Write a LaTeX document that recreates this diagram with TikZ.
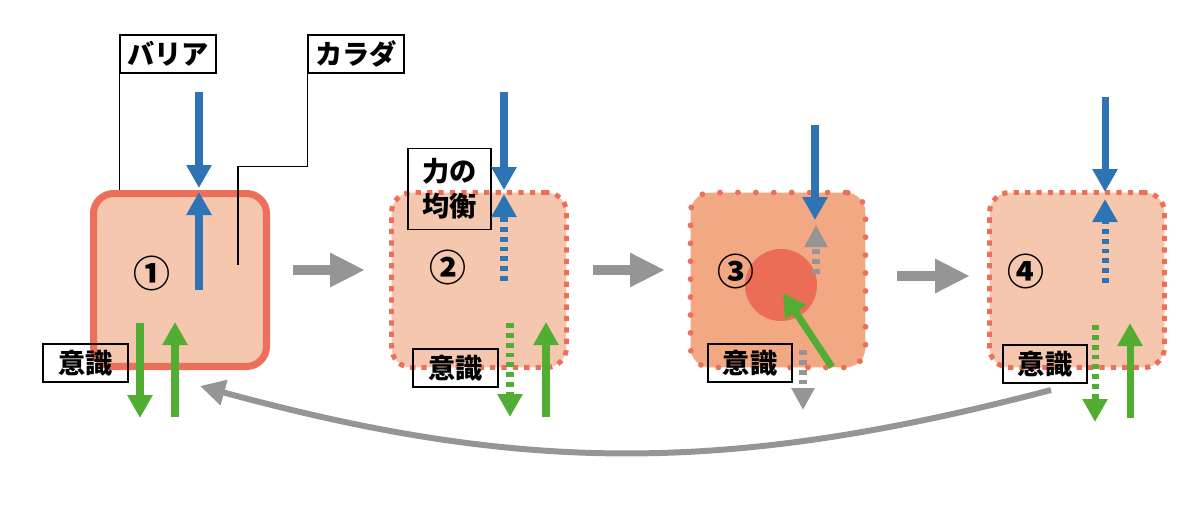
\documentclass[tikz,border=0pt]{standalone}
\usepackage{fontspec}
\newfontfamily\jp{Noto Sans CJK JP}
\usetikzlibrary{arrows.meta}
\definecolor{cellred}{HTML}{EC6F5A}
\definecolor{cellfill}{HTML}{F5C7AF}
\definecolor{deepfill}{HTML}{F2A983}
\definecolor{corered}{HTML}{EB6D55}
\definecolor{forceblue}{HTML}{2E74B5}
\definecolor{mindgreen}{HTML}{52AE32}
\definecolor{stepgray}{HTML}{959595}

\begin{document}
\begin{tikzpicture}[x=0.02cm,y=-0.02cm,
  font=\jp\bfseries\fontsize{15.5}{18}\selectfont,
  cell/.style={rounded corners=0.4cm,minimum width=3.5cm,minimum height=3.5cm,inner sep=0,fill=cellfill,draw=cellred},
  hard/.style={cell,line width=4pt,minimum width=3.46cm,minimum height=3.46cm},
  soft/.style={cell,line width=2.8pt,dash pattern=on 3pt off 3.5pt},
  loose/.style={cell,fill=deepfill,line width=3.3pt,line cap=round,dash pattern=on 0pt off 10.2pt},
  tag/.style={draw,line width=0.8pt,inner sep=0,minimum height=0.76cm},
  num/.style={font=\jp\bfseries\fontsize{21}{24}\selectfont},
  leader/.style={line width=0.6pt},
  force/.style={draw=forceblue,line width=4pt,-{Triangle[width=0.48cm,length=0.46cm]}},
  mind/.style={draw=mindgreen,line width=4pt,-{Triangle[width=0.48cm,length=0.46cm]}},
  drift/.style={draw=stepgray,line width=4pt,-{Triangle[width=0.44cm,length=0.44cm]}},
  dots/.style={dash pattern=on 2.8pt off 2.8pt},
  stepline/.style={draw=stepgray,line width=5.7pt,-{Triangle[width=0.64cm,length=0.7cm]}},
  loop/.style={draw=stepgray,line width=3.4pt,-{Triangle[width=0.5cm,length=0.5cm]}}]
  \useasboundingbox (0,0) rectangle (1200,504);

  \node[hard] (cell1) at (180,280) {};
  \node[soft] (cell2) at (479,280) {};
  \node[loose] (cell3) at (778,280) {};
  \node[soft] (cell4) at (1077,280) {};
  \node[circle,fill=corered,minimum size=1.44cm,inner sep=0] (core) at (781,285) {};

  \node[num] (n1) at (152,273) {①};
  \node[num] (n2) at (448,267) {②};
  \node[num] (n3) at (736,271) {③};
  \node[num] (n4) at (1026,271) {④};

  \node[tag,minimum width=1.92cm] (barrier) at (168,54) {バリア};
  \node[tag,minimum width=1.92cm] (body) at (356,54) {カラダ};
  \node[tag,minimum width=1.66cm,minimum height=1.62cm,align=center] (balance) at (449.5,189) {力の\\[2pt]均衡};
  \node[tag,minimum width=1.7cm] (aware1) at (85.5,363) {意識};
  \node[tag,minimum width=1.7cm] (aware2) at (455.5,368) {意識};
  \node[tag,minimum width=1.68cm] (aware3) at (750,363) {意識};
  \node[tag,minimum width=1.68cm] (aware4) at (1045,364) {意識};

  \foreach \n/\x/\y in {p1/199/92, p2/199/188, p3/199/290, p4/199/192,
      p5/140/323, p6/140/418, p7/175/417, p8/175/322,
      q1/504/92, q2/504/190, q3/504/281, q4/504/194,
      q5/510/323, q6/510/417, q7/546/417, q8/546/322,
      r1/815/125, r2/815/220, r3/816/274, r4/816/225,
      r5/832/367, r6/783/293, r7/803/350, r8/803/410,
      s1/1105/97, s2/1105/192, s3/1105/283, s4/1105/199,
      s5/1095/325, s6/1095/422, s7/1130/418, s8/1130/323,
      t1/293/270, t2/365/270, t3/593/270, t4/665/270, t5/897/276, t6/970/276,
      u1/1051/390, u2/200/386, k1/238/265}
    \coordinate (\n) at (\x,\y);

  \draw[leader] (barrier.south west) -- (barrier.south west |- cell1.north);
  \draw[leader] (body.south west) -- ++(0,93) -| (k1);

  \draw[force] (p1) -- (p2);
  \draw[force] (p3) -- (p4);
  \draw[mind] (p5) -- (p6);
  \draw[mind] (p7) -- (p8);

  \draw[force] (q1) -- (q2);
  \draw[force,dots] (q3) -- (q4);
  \draw[mind,dots] (q5) -- (q6);
  \draw[mind] (q7) -- (q8);

  \draw[force] (r1) -- (r2);
  \draw[drift,dots] (r3) -- (r4);
  \draw[mind] (r5) -- (r6);
  \draw[drift,dots] (r7) -- (r8);

  \draw[force] (s1) -- (s2);
  \draw[force,dots] (s3) -- (s4);
  \draw[mind,dots] (s5) -- (s6);
  \draw[mind] (s7) -- (s8);

  \draw[stepline] (t1) -- (t2);
  \draw[stepline] (t3) -- (t4);
  \draw[stepline] (t5) -- (t6);
  \draw[loop] (u1) to[bend left=15] (u2);
\end{tikzpicture}
\end{document}
